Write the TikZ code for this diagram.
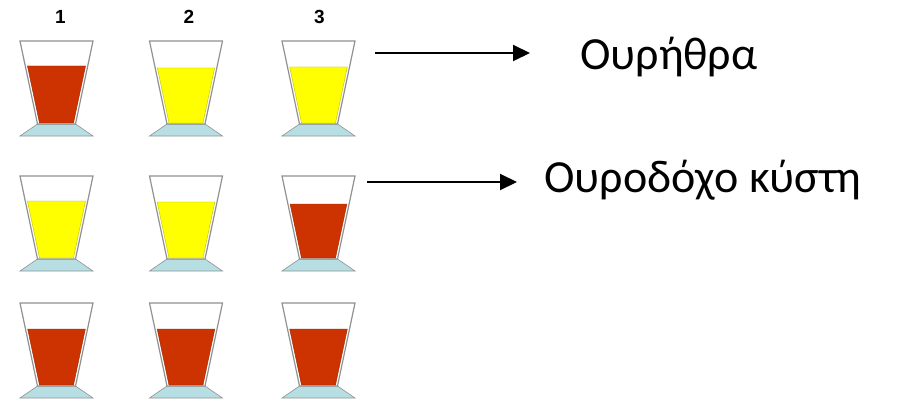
\documentclass[tikz,border=0pt]{standalone}
\usepackage{fontspec}
\setmainfont{Carlito}
\newfontfamily\numfont{Liberation Sans}
\usetikzlibrary{arrows.meta}
\definecolor{redliq}{RGB}{204,51,0}
\definecolor{yelliq}{RGB}{255,255,0}
\definecolor{basecol}{RGB}{183,223,227}
\definecolor{rimgray}{RGB}{145,145,145}

\tikzset{
  % a glass on a stand: #1 = liquid colour, #2 = depth of the liquid surface below the rim
  pics/glass/.style 2 args={code={
    \pgfmathsetmacro\lx{-36.5+17.5*#2/83+2.2}
    \pgfmathsetmacro\rx{-\lx}
    \filldraw[fill=basecol, draw=rimgray, line width=0.6pt]
      (-19,83) -- (19,83) -- (36.5,95) -- (-36.5,95) -- cycle;
    \filldraw[fill=white, draw=rimgray, line width=1.2pt]
      (-36.5,0) -- (36.5,0) -- (19,83) -- (-19,83) -- cycle;
    \filldraw[fill=#1, draw=#1!75!black, line width=0.4pt]
      (\lx,#2) -- (\rx,#2) -- (17,82) -- (-17,82) -- cycle;
  }},
  colnum/.style={font=\numfont\bfseries\fontsize{19}{19}\selectfont, inner sep=0pt},
  label text/.style={font=\fontsize{46}{46}\selectfont, inner sep=0pt, anchor=base west},
  pointer/.style={line width=2pt, -{Triangle[length=17pt,width=16pt]}},
}

\begin{document}
\begin{tikzpicture}[x=1pt, y=-1pt]
  \useasboundingbox (0,0) rectangle (904,401);

  % column numbers
  \node[colnum] (n1) at (60.5,17) {1};
  \node[colnum] (n2) at (189,17) {2};
  \node[colnum] (n3) at (319.5,17) {3};

  % first row
  \pic (g11) at (56.5,41)  {glass={redliq}{25}};
  \pic (g12) at (186,41)   {glass={yelliq}{27}};
  \pic (g13) at (318.5,41) {glass={yelliq}{26}};

  % second row
  \pic (g21) at (56.5,176) {glass={yelliq}{25}};
  \pic (g22) at (186,176)  {glass={yelliq}{26}};
  \pic (g23) at (318.5,176){glass={redliq}{28}};

  % third row
  \pic (g31) at (56.5,303) {glass={redliq}{26}};
  \pic (g32) at (186,303)  {glass={redliq}{26}};
  \pic (g33) at (318.5,303){glass={redliq}{26}};

  % labels and pointers
  \node[label text] (t1) at (580,70)  {Ουρήθρα};
  \node[label text] (t2) at (544,192) {Ουροδόχο κύστη};

  \coordinate (a1s) at (375,53);
  \coordinate (a1e) at (530,53);
  \coordinate (a2s) at (367,182);
  \coordinate (a2e) at (517,182);
  \draw[pointer] (a1s) -- (a1e);
  \draw[pointer] (a2s) -- (a2e);
\end{tikzpicture}
\end{document}
